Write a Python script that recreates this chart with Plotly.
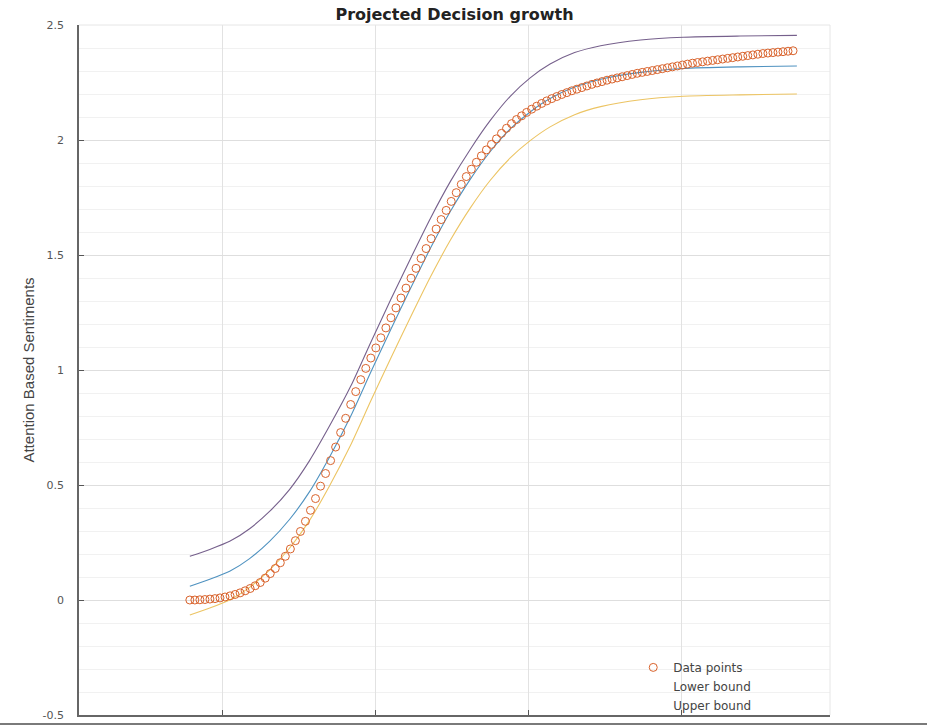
import numpy as np
import plotly.graph_objects as go

# ---- observed sentiment scores (open circles) ----
n_obs = 121
t_obs = np.linspace(7.9, 47.25, n_obs)
sentiment = [
    0.000, 0.000, 0.001, 0.002, 0.004, 0.006, 0.009, 0.013, 0.018, 0.024,
    0.031, 0.040, 0.050, 0.062, 0.076, 0.095, 0.115, 0.137, 0.162, 0.190,
    0.222, 0.258, 0.298, 0.342, 0.390, 0.441, 0.495, 0.550, 0.606, 0.665,
    0.728, 0.790, 0.850, 0.906, 0.958, 1.007, 1.052, 1.096, 1.140, 1.183,
    1.227, 1.270, 1.313, 1.356, 1.399, 1.442, 1.485, 1.528, 1.571, 1.613,
    1.654, 1.694, 1.733, 1.771, 1.807, 1.841, 1.873, 1.903, 1.931, 1.957,
    1.981, 2.005, 2.029, 2.051, 2.071, 2.089, 2.105, 2.120, 2.134, 2.147,
    2.159, 2.170, 2.180, 2.189, 2.198, 2.206, 2.214, 2.221, 2.228, 2.235,
    2.242, 2.248, 2.254, 2.260, 2.265, 2.270, 2.275, 2.280, 2.285, 2.290,
    2.294, 2.298, 2.302, 2.306, 2.310, 2.314, 2.318, 2.322, 2.326, 2.330,
    2.334, 2.337, 2.340, 2.343, 2.346, 2.349, 2.352, 2.355, 2.358, 2.361,
    2.364, 2.367, 2.370, 2.373, 2.376, 2.378, 2.380, 2.382, 2.384, 2.386,
    2.388,
]

# ---- fitted curve and its confidence bounds ----
t_fit = [7.9, 9.2, 10.5, 11.8, 13.1, 14.4, 15.7, 17.0, 18.4, 19.7, 21.0, 22.3,
         23.6, 24.9, 26.2, 27.5, 28.8, 30.1, 31.4, 33.0, 34.7, 37.3, 40.1,
         43.8, 47.5]
fit_mid = [0.060, 0.090, 0.125, 0.180, 0.255, 0.350, 0.470, 0.620, 0.800,
           0.990, 1.175, 1.355, 1.530, 1.690, 1.830, 1.950, 2.048, 2.122,
           2.180, 2.230, 2.264, 2.294, 2.311, 2.318, 2.322]
upper_bound = [0.190, 0.220, 0.255, 0.310, 0.385, 0.480, 0.605, 0.755,
               0.930, 1.120, 1.305, 1.485, 1.660, 1.820, 1.960, 2.085, 2.190,
               2.270, 2.330, 2.380, 2.410, 2.435, 2.447, 2.452, 2.455]
lower_bound = [-0.065, -0.035, 0.000, 0.055, 0.130, 0.225, 0.345, 0.495,
               0.675, 0.865, 1.050, 1.230, 1.405, 1.565, 1.705, 1.825, 1.922,
               1.997, 2.057, 2.110, 2.145, 2.175, 2.190, 2.196, 2.200]

y_ticks = [-0.5, 0, 0.5, 1, 1.5, 2, 2.5]
y_tick_text = ["-0.5", "0", "0.5", "1", "1.5", "2", "2.5"]

FONT = "DejaVu Sans, Liberation Sans, Arial, sans-serif"
NARROW = "Liberation Sans Narrow, Arial Narrow, Liberation Sans, Arial, sans-serif"

fig = go.Figure()

line_style = dict(width=1.1, shape="spline", smoothing=0.6)
fig.add_trace(go.Scatter(
    x=t_fit, y=upper_bound, mode="lines", showlegend=False,
    line=dict(color="#76608c", **line_style), hoverinfo="skip"))
fig.add_trace(go.Scatter(
    x=t_fit, y=fit_mid, mode="lines", showlegend=False,
    line=dict(color="#4f92c0", **line_style), hoverinfo="skip"))
fig.add_trace(go.Scatter(
    x=t_fit, y=lower_bound, mode="lines", showlegend=False,
    line=dict(color="#ecc463", **line_style), hoverinfo="skip"))

fig.add_trace(go.Scatter(
    x=t_obs, y=sentiment, mode="markers", name="Data points",
    marker=dict(symbol="circle-open", size=8, color="#d9622b",
                line=dict(width=1, color="#d9622b"))))

# legend entries for the bounds carry no visible sample
fig.add_trace(go.Scatter(x=[None], y=[None], mode="lines", name="Lower bound",
                         line=dict(color="rgba(0,0,0,0)")))
fig.add_trace(go.Scatter(x=[None], y=[None], mode="lines", name="Upper bound",
                         line=dict(color="rgba(0,0,0,0)")))

fig.update_layout(
    width=927, height=726,
    margin=dict(l=79, r=97, t=25, b=11, autoexpand=False),
    paper_bgcolor="white", plot_bgcolor="white",
    font=dict(family=FONT, size=11, color="#444444"),
    title=dict(text="<b>Projected Decision growth</b>", x=0.5, xref="paper",
               xanchor="center", y=1 - 14 / 726, yanchor="middle",
               font=dict(family=FONT, size=16, color="#222222")),
    showlegend=True,
    legend=dict(x=0.738, y=0.09, xanchor="left", yanchor="top",
                bgcolor="rgba(255,255,255,0)", borderwidth=0,
                font=dict(family=FONT, size=12, color="#444444"),
                itemwidth=30),
)

fig.update_xaxes(
    range=[0.67, 49.66], tick0=0, dtick=10, showticklabels=False,
    ticks="inside", ticklen=5, tickcolor="#555555",
    showline=True, linecolor="#666666", linewidth=1.5,
    showgrid=True, gridcolor="#e2e2e2", gridwidth=1,
    zeroline=False, mirror=False,
)
fig.update_yaxes(
    range=[-0.5, 2.5], tickvals=y_ticks, ticktext=y_tick_text,
    ticks="inside", ticklen=5, tickcolor="#555555",
    ticklabelstandoff=11,
    tickfont=dict(family=FONT, size=11, color="#555555"),
    showline=True, linecolor="#666666", linewidth=1.5,
    showgrid=True, gridcolor="#dedede", gridwidth=1,
    minor=dict(dtick=0.1, showgrid=True, gridcolor="#f1f1f1", gridwidth=1),
    zeroline=False,
    title=dict(text="Attention Based Sentiments", standoff=4,
               font=dict(family=NARROW, size=15, color="#444444")),
)

# frame edges on top and right, drawn faintly
fig.add_shape(type="line", xref="paper", yref="paper", x0=0, x1=1, y0=1, y1=1,
              line=dict(color="#e6e6e6", width=1))
fig.add_shape(type="line", xref="paper", yref="paper", x0=1, x1=1, y0=0, y1=1,
              line=dict(color="#e6e6e6", width=1))
# bottom rule under the axes
fig.add_shape(type="line", xref="paper", yref="paper",
              x0=-79 / 751, x1=848 / 751, y0=-9 / 690, y1=-9 / 690,
              line=dict(color="#7a7a7a", width=2))

fig.write_html("out.html")
